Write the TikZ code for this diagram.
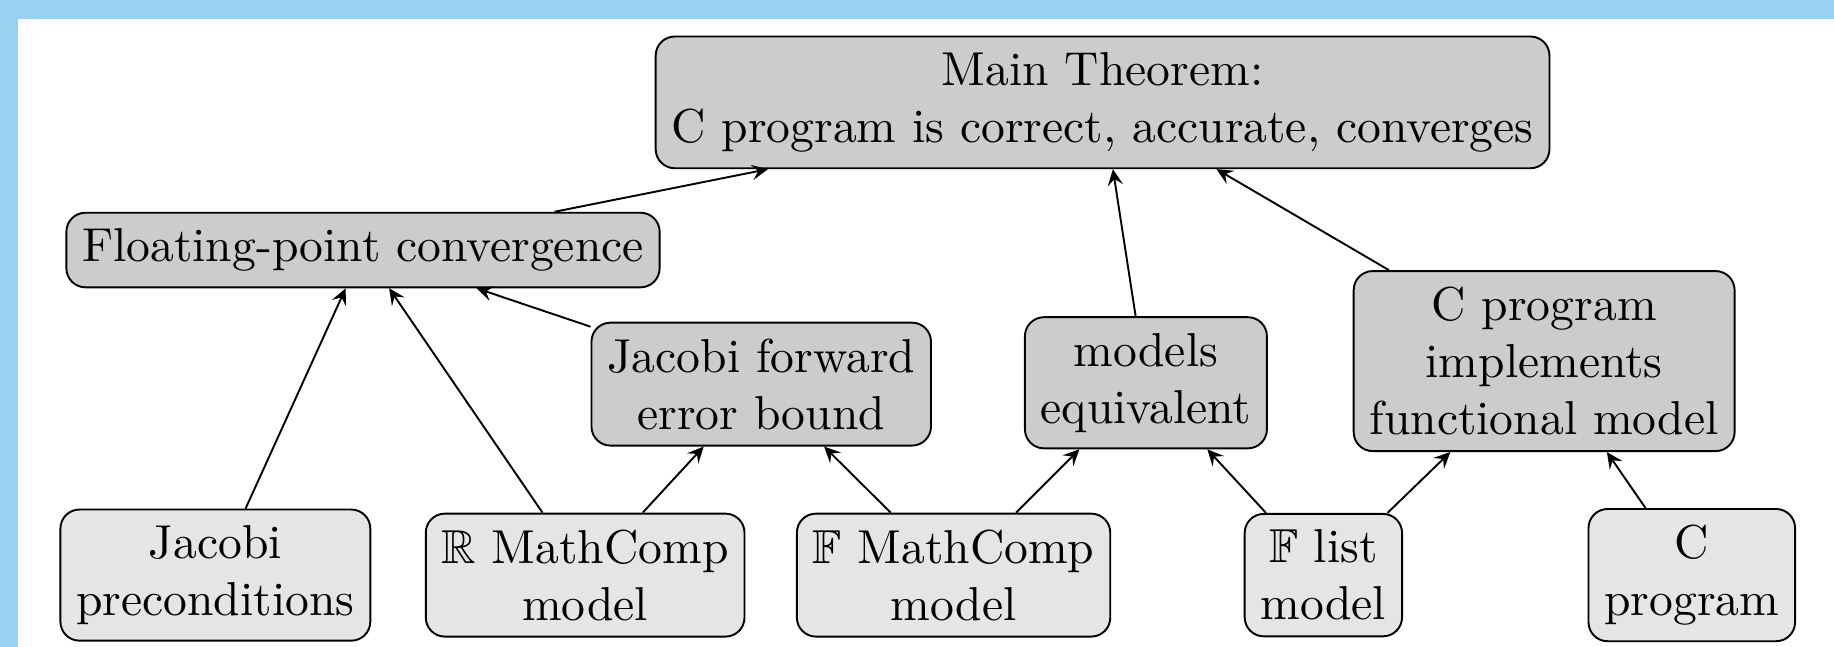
\documentclass[tikz,border=0pt]{standalone}
\usepackage{amssymb}
\usepackage{tikz}
\usetikzlibrary{arrows.meta}
\definecolor{slideblue}{HTML}{99D1F0}

\begin{document}
\begin{tikzpicture}
      [>={Stealth[length=3.4pt,width=3.2pt,inset=1.3pt]},
       lemma/.style={rectangle,rounded corners,draw=black,fill=black!20,align=center},
       model/.style={rectangle,rounded corners,draw=black,fill=black!10,align=center}]
      \fill[slideblue] (0,0) rectangle (13.54,4.776);
      \fill[white] (0.13,0) rectangle (13.54,4.636);

      \node (L01) at (8.14,4.02) [lemma] {Main Theorem:\\C program is correct, accurate, converges};

      \node (L11) at (2.68,2.93) [lemma] {Floating-point convergence};

      \node (L21) at (5.62,1.94) [lemma] {Jacobi forward\\error bound};
      \node (L22) at (8.46,1.95) [lemma] {models\\equivalent};
      \node (L23) at (11.40,2.11) [lemma] {C program\\implements\\functional model};

      \node (L31) at (1.59,0.53) [model] {Jacobi\\preconditions};
      \node (L32) at (4.32,0.53) [model] {$\mathbb{R}$ MathComp\\model};
      \node (L33) at (7.04,0.53) [model] {$\mathbb{F}$ MathComp\\model};
      \node (L34) at (9.77,0.53) [model] {$\mathbb{F}$ list\\model};
      \node (L35) at (12.49,0.53) [model] {C\\program};

      \draw[->] (L11) -- (L01);
      \draw[->] (L22) -- (L01);
      \draw[->] (L23) -- (L01);

      \draw[->] (L31) -- (L11);
      \draw[->] (L32) -- (L11);
      \draw[->] (L21) -- (L11);

      \draw[->] (L32) -- (L21);
      \draw[->] (L33) -- (L21);

      \draw[->] (L33) -- (L22);
      \draw[->] (L34) -- (L22);

      \draw[->] (L34) -- (L23);
      \draw[->] (L35) -- (L23);
      \end{tikzpicture}
\end{document}
